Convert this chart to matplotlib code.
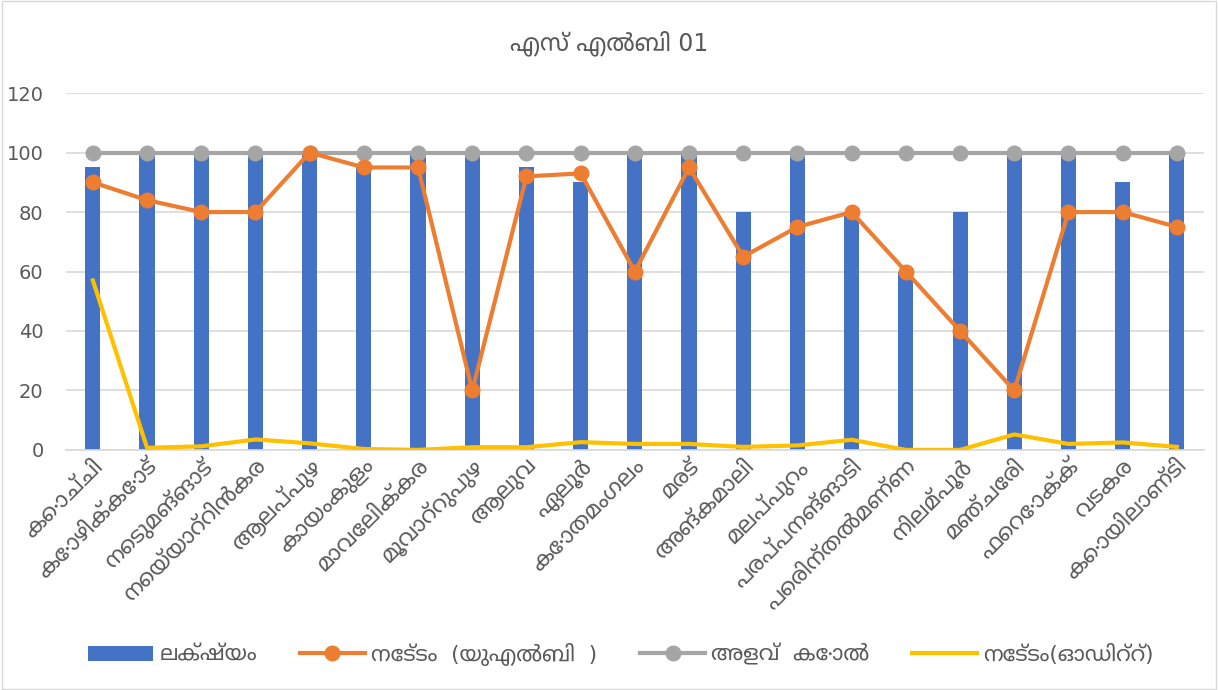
import matplotlib
matplotlib.use('Agg')
import matplotlib.pyplot as plt
from matplotlib import font_manager
from matplotlib.ft2font import FT2Font
import numpy as np

# ULB names
cities = ['കൊച്ചി', 'കോഴിക്കോട്', 'നെടുമങ്ങാട്', 'നെയ്യാറ്റിൻകര', 'ആലപ്പുഴ',
          'കായംകുളം', 'മാവേലിക്കര', 'മൂവാറ്റുപുഴ', 'ആലുവ', 'ഏലൂർ',
          'കോതമംഗലം', 'മരട്', 'അങ്കമാലി', 'മലപ്പുറം', 'പരപ്പനങ്ങാടി',
          'പെരിന്തൽമണ്ണ', 'നിലമ്പൂർ', 'മഞ്ചേരി', 'ഫെറോക്ക്', 'വടകര', 'കൊയിലാണ്ടി']

target = [95, 100, 100, 100, 100, 95, 100, 100, 95, 90, 100,
          100, 80, 100, 80, 60, 80, 100, 100, 90, 100]
achieved_ulb = [90, 84, 80, 80, 100, 95, 95, 20, 92, 93, 60,
                95, 65, 75, 80, 60, 40, 20, 80, 80, 75]
benchmark = [100] * 21
achieved_audit = [57, 0.7, 1.2, 3.5, 2.2, 0.3, 0, 0.9, 0.9, 2.6, 2,
                  2, 1, 1.5, 3.4, 0, 0, 5.2, 2, 2.5, 1]

title = 'എസ് എൽബി 01'
labels = ['ലക്ഷ്യം', 'നേട്ടം  (യുഎൽബി  )', 'അളവ്  കോൽ', 'നേട്ടം(ഓഡിറ്റ്)']

# look for a font with malayalam glyphs, prefer a proportional sans one
cands = []
for path in font_manager.findSystemFonts():
    try:
        if 0x0D15 in FT2Font(path).get_charmap():
            name = font_manager.FontProperties(fname=path).get_name()
            score = 0
            if 'Malayalam' in name:
                score += 4
            if 'Sans' in name:
                score += 2
            if 'Mono' in name:
                score -= 5
            if 'Bold' in path or 'Oblique' in path or 'Italic' in path:
                score -= 3
            cands.append((score, name, path))
    except Exception:
        pass
cands.sort(reverse=True)

fams = ['DejaVu Sans']
if cands:
    font_manager.fontManager.addfont(cands[0][2])
    fams = ['DejaVu Sans', cands[0][1]]
plt.rcParams['font.family'] = fams

grey = '#595959'
fig = plt.figure(figsize=(12.18, 6.9), dpi=100)
ax = fig.add_axes([0.054, 0.348, 0.9345, 0.517])

x = np.arange(len(cities))
b = ax.bar(x, target, width=0.28, color='#4472C4', zorder=2)
l1, = ax.plot(x, achieved_ulb, color='#ED7D31', lw=3, marker='o', ms=10.5, zorder=4)
l2, = ax.plot(x, benchmark, color='#A5A5A5', lw=3, marker='o', ms=10.5, zorder=3)
l3, = ax.plot(x, achieved_audit, color='#FFC000', lw=3, zorder=5)

ax.set_xlim(-0.5, len(cities) - 0.5)
ax.set_ylim(0, 120)
ax.set_yticks(range(0, 121, 20))
ax.yaxis.grid(True, color='#D9D9D9', lw=1.2, zorder=0)
for s in ['top', 'right', 'left']:
    ax.spines[s].set_visible(False)
ax.spines['bottom'].set_color('#D9D9D9')
ax.spines['bottom'].set_linewidth(1.2)
ax.tick_params(axis='both', length=0, colors=grey)
ax.tick_params(axis='y', pad=16, labelsize=14)
ax.tick_params(axis='x', pad=4, labelsize=16)
ax.set_xticks(x)
ax.set_xticklabels(cities, rotation=45, ha='right', rotation_mode='anchor')

fig.text(0.5, 0.938, title, ha='center', va='center', fontsize=17, color=grey)

fig.legend([b, l1, l2, l3], labels, loc='center', bbox_to_anchor=(0.51, 0.052), ncol=4,
           frameon=False, fontsize=15.5, labelcolor=grey, handlelength=3.0,
           columnspacing=2.0, handletextpad=0.3)

fig.patches.append(plt.Rectangle((0.002, 0.002), 0.996, 0.996, transform=fig.transFigure,
                                 fill=False, edgecolor='#D9D9D9', lw=1))

fig.savefig('out.png', dpi=100)
